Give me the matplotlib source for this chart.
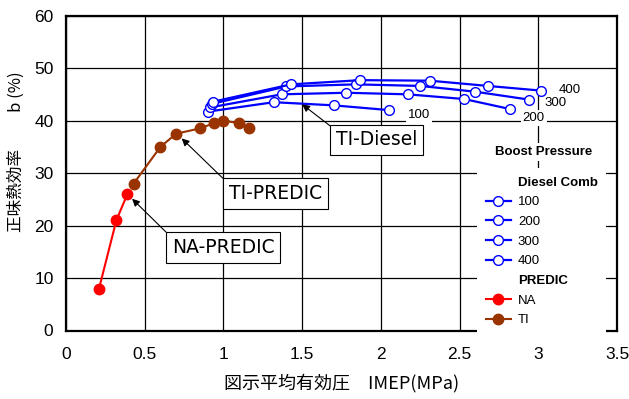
import matplotlib
matplotlib.use("Agg")
import matplotlib.pyplot as plt
from matplotlib.lines import Line2D

# ---------------- data ----------------
na_x = [0.21, 0.32, 0.39]
na_y = [8.0, 21.0, 26.0]

ti_x = [0.43, 0.60, 0.70, 0.85, 0.94, 1.00, 1.10, 1.16]
ti_y = [28.0, 35.0, 37.5, 38.5, 39.5, 40.0, 39.5, 38.5]

d100_x = [0.90, 1.32, 1.70, 2.05]
d100_y = [41.7, 43.5, 42.9, 42.0]

d200_x = [0.915, 1.37, 1.78, 2.17, 2.53, 2.82]
d200_y = [42.5, 45.0, 45.3, 45.0, 44.1, 42.2]

d300_x = [0.93, 1.40, 1.84, 2.25, 2.60, 2.94]
d300_y = [43.2, 46.5, 46.9, 46.6, 45.5, 44.0]

d400_x = [0.935, 1.43, 1.87, 2.31, 2.68, 3.02]
d400_y = [43.6, 46.9, 47.7, 47.6, 46.6, 45.7]

x_ticks = [0, 0.5, 1, 1.5, 2, 2.5, 3, 3.5]
x_ticklabels = ["0", "0.5", "1", "1.5", "2", "2.5", "3", "3.5"]
y_ticks = [0, 10, 20, 30, 40, 50, 60]

diesel_labels = ["100", "200", "300", "400"]
predic_labels = ["NA", "TI"]

xlabel = "図示平均有効圧　IMEP(MPa)"
ylabel = "正味熱効率　　 b (%)"

# ---------------- figure ----------------
cjk = ["Noto Sans CJK JP", "DejaVu Sans"]
plt.rcParams["font.family"] = ["Liberation Sans", "DejaVu Sans"]

fig = plt.figure(figsize=(6.29, 3.99), dpi=100)
ax = fig.add_axes([66 / 629, 1 - 330.5 / 399, 551 / 629, 314.9 / 399])

ax.set_xlim(0, 3.5)
ax.set_ylim(0, 60)
ax.set_xticks(x_ticks)
ax.set_xticklabels(x_ticklabels)
ax.set_yticks(y_ticks)
ax.grid(True, color="black", linewidth=0.9, zorder=0)
ax.set_axisbelow(True)
for s in ax.spines.values():
    s.set_linewidth(1.6)
ax.tick_params(axis="both", direction="in", length=0, labelsize=12.5, colors="black")
ax.tick_params(axis="x", pad=12)
ax.tick_params(axis="y", pad=9)

blue = "#0000FF"
red = "#FF0000"
brown = "#993300"

ms_open = dict(marker="o", markersize=7, markerfacecolor="white",
               markeredgecolor=blue, markeredgewidth=1.0)
h100, = ax.plot(d100_x, d100_y, color=blue, lw=1.6, **ms_open, zorder=3)
h200, = ax.plot(d200_x, d200_y, color=blue, lw=1.6, **ms_open, zorder=3)
h300, = ax.plot(d300_x, d300_y, color=blue, lw=1.6, **ms_open, zorder=3)
h400, = ax.plot(d400_x, d400_y, color=blue, lw=1.6, **ms_open, zorder=3)

hna, = ax.plot(na_x, na_y, color=red, lw=1.5, marker="o", markersize=7.5,
               markerfacecolor=red, markeredgecolor=red, zorder=3)
hti, = ax.plot(ti_x, ti_y, color=brown, lw=1.5, marker="o", markersize=7.5,
               markerfacecolor=brown, markeredgecolor=brown, zorder=3)

# series labels
lab_bbox = dict(boxstyle="square,pad=0.15", facecolor="white", edgecolor="none")
ax.text(2.24, 41.0, "100", fontsize=9.5, ha="center", va="center", bbox=lab_bbox, zorder=4)
ax.text(2.97, 40.5, "200", fontsize=9.5, ha="center", va="center", bbox=lab_bbox, zorder=4)
ax.text(3.11, 43.3, "300", fontsize=9.5, ha="center", va="center", zorder=4)
ax.text(3.20, 45.8, "400", fontsize=9.5, ha="center", va="center", zorder=4)

# annotation boxes with arrows (arrow leaves from the top-left corner of each box)
box = dict(boxstyle="square,pad=0.3", facecolor="white", edgecolor="black", linewidth=0.8)


def callout(text, tip, center):
    ax.annotate(text, xy=tip, xytext=center, textcoords="data",
                fontsize=13.5, family="DejaVu Sans", ha="center", va="center",
                bbox=box, zorder=5,
                arrowprops=dict(arrowstyle="-|>", color="black", lw=0.8,
                                mutation_scale=11, shrinkA=0, shrinkB=0,
                                relpos=(0, 1)))


callout("TI-Diesel", (1.50, 43.1), (1.974, 36.3))
callout("TI-PREDIC", (0.735, 36.6), (1.33, 26.1))
callout("NA-PREDIC", (0.42, 25.1), (1.00, 15.8))

# legend
ax.text(3.035, 34.0, "Boost Pressure", fontsize=9.5, fontweight="bold",
        ha="center", va="center",
        bbox=dict(boxstyle="square,pad=0.25", facecolor="white", edgecolor="none"), zorder=5)

blank1 = Line2D([], [], linestyle="none")
blank2 = Line2D([], [], linestyle="none")
handles = [blank1, h100, h200, h300, h400, blank2, hna, hti]
labels = ["Diesel Comb"] + diesel_labels + ["PREDIC"] + predic_labels
leg = ax.legend(handles, labels, loc="upper left",
                bbox_to_anchor=((477 - 66) / 551, (330.5 - 168) / 314.9),
                borderaxespad=0, fontsize=9.5, frameon=True, fancybox=False,
                framealpha=1, facecolor="white", edgecolor="none",
                handlelength=1.9, handletextpad=0.55, labelspacing=0.56,
                borderpad=0.65)
leg.set_zorder(6)
for t in leg.get_texts():
    if t.get_text() in ("Diesel Comb", "PREDIC"):
        t.set_fontweight("bold")

ax.set_xlabel(xlabel, fontsize=13, family=cjk, labelpad=8)
ax.set_ylabel(ylabel, fontsize=12, family=cjk, labelpad=6)
ax.yaxis.set_label_coords(-0.075, (330.5 - 152) / 314.9)

fig.savefig("out.png", dpi=100)
